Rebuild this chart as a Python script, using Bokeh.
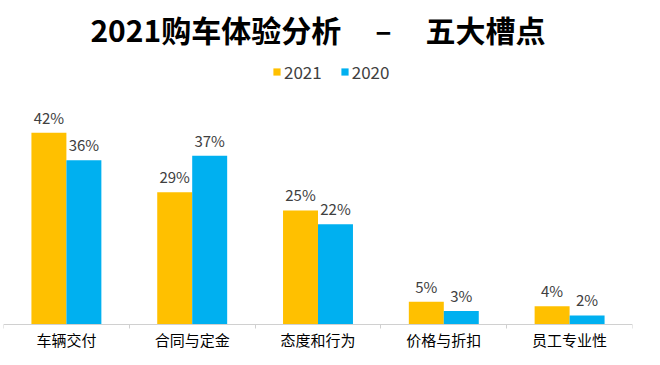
from bokeh.plotting import figure
from bokeh.models import ColumnDataSource, Range1d, FixedTicker, LabelSet, Legend, LegendItem, LinearAxis
from bokeh.core.properties import value
from bokeh.embed import file_html
from bokeh.resources import INLINE
import numpy as np

categories = ["车辆交付", "合同与定金", "态度和行为", "价格与折扣", "员工专业性"]
v2021 = [42, 29, 25, 5, 4]
v2020 = [36, 37, 22, 3, 2]
series_names = ["2021", "2020"]
colors = ["#FFC000", "#00B0F0"]
gap = "\u00a0" * 5
title_text = "2021购车体验分析" + gap + "–" + gap + "五大槽点"

FONT = "Noto Sans CJK SC"
n = len(categories)
centers = np.arange(n) + 0.5
bw = 0.278

p = figure(width=644, height=349, output_backend="svg", toolbar_location=None,
           x_range=Range1d(0, n), y_range=Range1d(-5.45, 59.6),
           x_axis_location=None, y_axis_location=None, tools="",
           min_border_left=3, min_border_right=12, min_border_top=52, min_border_bottom=0)
p.outline_line_color = None
p.xgrid.visible = False
p.ygrid.visible = False

p.title.text = title_text
p.title.align = "center"
p.title.text_font = FONT
p.title.text_font_size = "30px"
p.title.text_font_style = "bold"
p.title.text_color = "#000000"
p.title.standoff = 4

src1 = ColumnDataSource(dict(x=centers - bw / 2, top=v2021, t=[f"{v}%" for v in v2021]))
src2 = ColumnDataSource(dict(x=centers + bw / 2, top=v2020, t=[f"{v}%" for v in v2020]))
r1 = p.vbar(x="x", top="top", width=bw, source=src1, fill_color=colors[0], line_color=None)
r2 = p.vbar(x="x", top="top", width=bw, source=src2, fill_color=colors[1], line_color=None)

for s in (src1, src2):
    p.add_layout(LabelSet(x="x", y="top", text="t", source=s, text_align="center",
                          text_baseline="alphabetic", y_offset=9, text_font=value(FONT),
                          text_font_size="15px", text_color="#404040"))

ax = LinearAxis(fixed_location=0)
ax.ticker = FixedTicker(ticks=list(centers), minor_ticks=list(range(n + 1)))
ax.major_label_overrides = {float(c): categories[i] for i, c in enumerate(centers)}
ax.major_label_text_font = FONT
ax.major_label_text_font_size = "15px"
ax.major_label_text_color = "#000000"
ax.major_label_standoff = 0
ax.major_tick_line_color = None
ax.major_tick_out = 0
ax.major_tick_in = 0
ax.minor_tick_line_color = "#D0D0D0"
ax.minor_tick_out = 4
ax.minor_tick_in = 0
ax.axis_line_color = "#D0D0D0"
p.add_layout(ax, "below")

legend = Legend(items=[LegendItem(label=series_names[0], renderers=[r1]),
                       LegendItem(label=series_names[1], renderers=[r2])],
                orientation="horizontal", location=(269, 265),
                glyph_width=9, glyph_height=9, label_standoff=3, spacing=18,
                label_text_font=FONT, label_text_font_size="17px", label_text_color="#404040",
                border_line_color=None, background_fill_alpha=0, margin=0, padding=0)
p.add_layout(legend)

open("out.html", "w").write(file_html(p, INLINE))
